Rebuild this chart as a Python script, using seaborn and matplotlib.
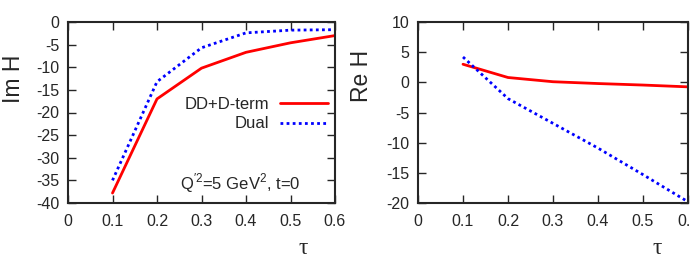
import seaborn as sns
import matplotlib.pyplot as plt
import pandas as pd

tau = [0.1, 0.2, 0.3, 0.4, 0.5, 0.6]
im_dd = [-37.8, -17.0, -10.2, -6.7, -4.6, -3.0]
im_dual = [-35.0, -13.2, -5.7, -2.4, -1.8, -1.7]
re_dd = [3.0, 0.8, 0.1, -0.2, -0.45, -0.75]
re_dual = [4.2, -2.7, -6.8, -10.9, -15.3, -19.8]

im_df = pd.DataFrame({'tau': tau * 2, 'H': im_dd + im_dual,
                      'model': ['DD+D-term'] * 6 + ['Dual'] * 6})
re_df = pd.DataFrame({'tau': tau * 2, 'H': re_dd + re_dual,
                      'model': ['DD+D-term'] * 6 + ['Dual'] * 6})

sns.set_style("ticks")
plt.rcParams['font.family'] = ['Liberation Sans', 'DejaVu Sans']
plt.rcParams['mathtext.fontset'] = 'custom'
plt.rcParams['mathtext.rm'] = 'Liberation Sans'
plt.rcParams['axes.unicode_minus'] = False

palette = {'DD+D-term': '#ff0000', 'Dual': '#0000ff'}
dashes = {'DD+D-term': '', 'Dual': (1, 1.2)}

fig = plt.figure(figsize=(6.91, 2.65), dpi=100)
ax1 = fig.add_axes([68 / 691, 1 - 203 / 265, 267 / 691, 181 / 265])
ax2 = fig.add_axes([418 / 691, 1 - 203 / 265, 270 / 691, 181 / 265])

for ax, df in [(ax1, im_df), (ax2, re_df)]:
    sns.lineplot(data=df, x='tau', y='H', hue='model', style='model',
                 palette=palette, dashes=dashes, linewidth=2, ax=ax,
                 legend=(ax is ax1))
    ax.set_xlim(0, 0.6)
    ax.set_xticks([0, 0.1, 0.2, 0.3, 0.4, 0.5, 0.6])
    ax.set_xticklabels(['0', '0.1', '0.2', '0.3', '0.4', '0.5', '0.6'])
    ax.tick_params(direction='in', top=True, right=True, length=6,
                   width=1, labelsize=11.5)
    ax.tick_params(axis='x', pad=8)
    ax.tick_params(axis='y', pad=6)
    for s in ax.spines.values():
        s.set_linewidth(1.5)
    ax.set_xlabel('')
    ax.set_ylabel('')

ax1.set_ylim(-40, 0)
ax1.set_yticks(range(-40, 1, 5))
ax2.set_ylim(-20, 10)
ax2.set_yticks(range(-20, 11, 5))

fig.text(14 / 691, 1 - 79 / 265, 'Im H', rotation=90, ha='center',
         va='center', fontsize=16.5)
fig.text(362 / 691, 1 - 76 / 265, 'Re H', rotation=90, ha='center',
         va='center', fontsize=16.5)
for xc in [303, 657]:
    fig.text(xc / 691, 1 - 248 / 265, 'τ', ha='center', va='center',
             fontsize=17, family='Liberation Serif')

leg = ax1.legend(loc='center right', bbox_to_anchor=(0.975, 0.49),
                 frameon=False, fontsize=12, markerfirst=False,
                 handlelength=2.9, handletextpad=0.65, labelspacing=0.25,
                 borderaxespad=0, borderpad=0)
for t in leg.get_texts():
    t.set_ha('right')

ax1.text(0.644, 0.11, r"Q$^{\prime 2}$=5 GeV$^{2}$, t=0", transform=ax1.transAxes,
         ha='center', va='center', fontsize=12)

fig.savefig('out.png', dpi=100)
